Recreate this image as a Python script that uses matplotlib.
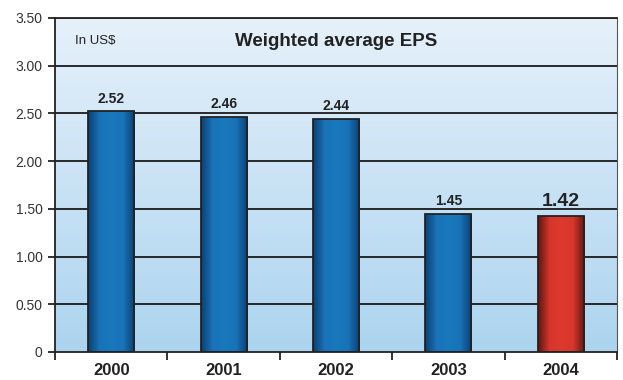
import matplotlib.pyplot as plt
import numpy as np
from matplotlib.colors import LinearSegmentedColormap

plt.rcParams['font.family'] = ['Liberation Sans', 'DejaVu Sans']

years = ['2000', '2001', '2002', '2003', '2004']
eps = [2.52, 2.46, 2.44, 1.45, 1.42]
yticks = [0, 0.5, 1.0, 1.5, 2.0, 2.5, 3.0, 3.5]
ytick_labels = ['0', '0.50', '1.00', '1.50', '2.00', '2.50', '3.00', '3.50']

fig = plt.figure(figsize=(6.23, 3.8), dpi=100)
ax = fig.add_axes([0.0883, 0.0737, 0.902, 0.879])

x = np.arange(len(years))
ax.set_xlim(-0.5, 4.5)
ax.set_ylim(0, 3.5)

# background gradient (light at top, blue at bottom)
bg = LinearSegmentedColormap.from_list('bg', ['#acd4ef', '#e6f1fa'])
grad = np.linspace(0, 1, 256).reshape(-1, 1)
ax.imshow(grad, cmap=bg, aspect='auto', extent=[-0.5, 4.5, 0, 3.5],
          origin='lower', zorder=0)

for yv in yticks[1:]:
    ax.axhline(yv, color='#1a1a1a', lw=1.3, zorder=1)

blue = LinearSegmentedColormap.from_list('b', ['#0c3f70', '#1873b8', '#1a78bd', '#1873b8', '#0c3f70'])
red = LinearSegmentedColormap.from_list('r', ['#5e1510', '#d8362b', '#dc3a2e', '#d8362b', '#5e1510'])
hgrad = np.linspace(0, 1, 256).reshape(1, -1)

bars = ax.bar(x, eps, width=0.41, color='none', edgecolor='#222222', lw=1.3, zorder=3)
for i, b in enumerate(bars):
    cm = red if i == 4 else blue
    im = ax.imshow(hgrad, cmap=cm, aspect='auto',
                   extent=[b.get_x(), b.get_x() + b.get_width(), 0, b.get_height()],
                   zorder=2)
    im.set_clip_path(b)

for i, v in enumerate(eps):
    big = i == 4
    ax.text(x[i], v + (0.07 if big else 0.06), f'{v:.2f}', ha='center', va='bottom',
            fontsize=14 if big else 10, fontweight='bold', color='#222222', zorder=4)

ax.text(0.035, 0.93, 'In US$', transform=ax.transAxes, fontsize=9.5, color='#222222',
        va='center')
ax.text(0.5, 0.93, 'Weighted average EPS', transform=ax.transAxes, fontsize=13.5,
        fontweight='bold', color='#222222', ha='center', va='center')

ax.set_yticks(yticks)
ax.set_yticklabels(ytick_labels, fontsize=10, color='#333333')
ax.set_xticks(x)
ax.set_xticklabels(years, fontsize=12, fontweight='bold', color='#222222')
ax.tick_params(axis='x', length=0, pad=8)
ax.tick_params(axis='y', length=5, width=1.3, color='#222222', pad=4)
ax.set_xticks(np.arange(-0.5, 5, 1), minor=True)
ax.tick_params(axis='x', which='minor', length=6, width=1.3, color='#222222')

for s in ax.spines.values():
    s.set_color('#222222')
    s.set_linewidth(1.3)
ax.spines['right'].set_linewidth(0.8)
ax.spines['right'].set_color('#555555')

fig.savefig('out.png', dpi=100)
